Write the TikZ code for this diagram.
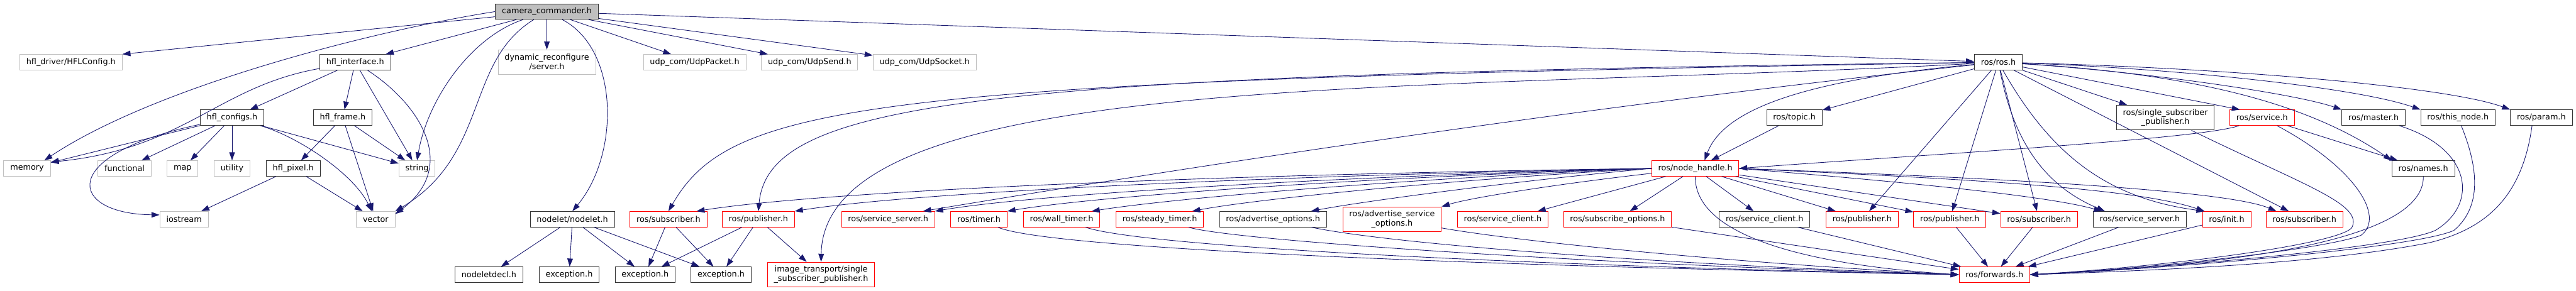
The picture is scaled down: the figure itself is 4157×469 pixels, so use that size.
\documentclass[tikz,border=0pt]{standalone}
\usepackage{fontspec}
\setmainfont{DejaVu Sans}
\usepackage{tikz}
\usetikzlibrary{arrows.meta}
\definecolor{edgeblue}{RGB}{25,25,112}
\definecolor{sysgray}{RGB}{191,191,191}
\tikzstyle{hdr}=[draw=black!80, fill=white, rectangle, line width=1pt, inner xsep=10.5pt, inner ysep=0pt, minimum height=25pt, align=center, font=\fontsize{13}{15}\selectfont]
\tikzstyle{sysh}=[hdr, draw=sysgray]
\tikzstyle{trunch}=[hdr, draw=red]
\tikzstyle{mainh}=[hdr, fill=sysgray, draw=black!80]
\tikzstyle{dep}=[draw=edgeblue, line width=0.9pt, -{Triangle[length=13pt,width=9pt]}]

\begin{document}
\begin{tikzpicture}[x=1pt,y=-1pt]
\useasboundingbox (0,0) rectangle (4157,469);
\node[mainh] (cc) at (882.5,18.7) {camera\_commander.h};
\node[sysh] (hfldrv) at (114.5,100.5) {hfl\_driver/HFLConfig.h};
\node[hdr] (hflif) at (573.2,100.5) {hfl\_interface.h};
\node[sysh, minimum height=40pt] (dynrec) at (882.5,100.5) {dynamic\_reconfigure\\/server.h};
\node[sysh] (udppkt) at (1121,100.5) {udp\_com/UdpPacket.h};
\node[sysh] (udpsend) at (1306.5,100.5) {udp\_com/UdpSend.h};
\node[sysh] (udpsock) at (1492,100.5) {udp\_com/UdpSocket.h};
\node[hdr] (rosros) at (3224.8,100.5) {ros/ros.h};
\node[hdr] (hflcfg) at (374.5,190) {hfl\_configs.h};
\node[hdr] (hflfrm) at (553,190) {hfl\_frame.h};
\node[hdr] (topic) at (2895.6,190) {ros/topic.h};
\node[hdr, minimum height=40pt] (singlesub) at (3494.4,190) {ros/single\_subscriber\\\_publisher.h};
\node[trunch] (service) at (3650.3,190) {ros/service.h};
\node[hdr] (master) at (3830.3,190) {ros/master.h};
\node[hdr] (thisnode) at (3966.5,190) {ros/this\_node.h};
\node[hdr] (param) at (4101,190) {ros/param.h};
\node[sysh] (mem) at (43.7,272) {memory};
\node[sysh] (func) at (201,272) {functional};
\node[sysh] (map) at (294.7,272) {map};
\node[sysh] (util) at (374.5,272) {utility};
\node[hdr] (hflpix) at (473.2,272) {hfl\_pixel.h};
\node[sysh] (str) at (673,272) {string};
\node[trunch] (nodehandle) at (2735.7,272) {ros/node\_handle.h};
\node[hdr] (names) at (3910.5,272) {ros/names.h};
\node[sysh] (ios) at (297,354) {iostream};
\node[sysh] (vec) at (606.3,354) {vector};
\node[hdr] (nodelet) at (923.7,354) {nodelet/nodelet.h};
\node[trunch] (rsub1) at (1078.7,354) {ros/subscriber.h};
\node[trunch] (rpub1) at (1223.8,354) {ros/publisher.h};
\node[trunch] (rsrv1) at (1433.2,354) {ros/service\_server.h};
\node[trunch] (rtimer) at (1579.7,354) {ros/timer.h};
\node[trunch] (rwall) at (1713.2,354) {ros/wall\_timer.h};
\node[trunch] (rsteady) at (1871.7,354) {ros/steady\_timer.h};
\node[hdr] (radvopt) at (2054.3,354) {ros/advertise\_options.h};
\node[trunch, minimum height=40pt] (radvsrv) at (2246.4,354) {ros/advertise\_service\\\_options.h};
\node[trunch] (rsrvcl1) at (2425,354) {ros/service\_client.h};
\node[trunch] (rsubopt) at (2610.2,354) {ros/subscribe\_options.h};
\node[hdr] (rsrvcl2) at (2847.5,354) {ros/service\_client.h};
\node[trunch] (rpub2) at (3005,354) {ros/publisher.h};
\node[trunch] (rpub3) at (3146.4,354) {ros/publisher.h};
\node[trunch] (rsub2) at (3290.5,354) {ros/subscriber.h};
\node[hdr] (rsrv2) at (3453,354) {ros/service\_server.h};
\node[trunch] (rinit) at (3593.2,354) {ros/init.h};
\node[trunch] (rsub3) at (3718.7,354) {ros/subscriber.h};
\node[hdr] (nodeletdecl) at (789,443.5) {nodeletdecl.h};
\node[hdr] (exc1) at (918.5,443.5) {exception.h};
\node[hdr] (exc2) at (1041,443.5) {exception.h};
\node[hdr] (exc3) at (1163.6,443.5) {exception.h};
\node[trunch, minimum height=40pt] (imgtr) at (1325,443.3) {image\_transport/single\\\_subscriber\_publisher.h};
\node[trunch] (forwards) at (3218.5,443.5) {ros/forwards.h};
\draw[dep] (cc) -- (hfldrv.north east);
\draw[dep] (cc.west) .. controls (600,50) and (250,140) .. (mem.25);
\draw[dep] (cc) -- (hflif);
\draw[dep] (cc) .. controls (760,60) and (690,160) .. (str.north);
\draw[dep] (cc) .. controls (750,100) and (790,250) .. (vec.north east);
\draw[dep] (cc) -- (dynrec);
\draw[dep] (cc) .. controls (1000,80) and (1000,250) .. (nodelet.north);
\draw[dep] (cc) -- (udppkt);
\draw[dep] (cc) -- (udpsend);
\draw[dep] (cc) -- (udpsock);
\draw[dep] (cc) -- (rosros);
\draw[dep] (hflif.190) .. controls (350,140) and (300,240) .. (mem.15);
\draw[dep] (hflif) -- (hflcfg);
\draw[dep] (hflif) -- (hflfrm);
\draw[dep] (hflif) -- (str);
\draw[dep] (hflif) .. controls (680,170) and (740,270) .. (vec.15);
\draw[dep] (hflcfg) -- (mem);
\draw[dep] (hflcfg) -- (func);
\draw[dep] (hflcfg) -- (map);
\draw[dep] (hflcfg) -- (util);
\draw[dep] (hflcfg) .. controls (90,250) and (110,345) .. (ios.170);
\draw[dep] (hflcfg) -- (str);
\draw[dep] (hflcfg) .. controls (480,220) and (570,280) .. (vec);
\draw[dep] (hflfrm) -- (hflpix);
\draw[dep] (hflfrm) -- (vec);
\draw[dep] (hflfrm) -- (str);
\draw[dep] (hflpix) -- (ios);
\draw[dep] (hflpix) -- (vec);
\draw[dep] (nodelet) -- (nodeletdecl);
\draw[dep] (nodelet) -- (exc1);
\draw[dep] (nodelet) -- (exc2);
\draw[dep] (nodelet) -- (exc3);
\draw[dep] (rsub1) -- (exc2);
\draw[dep] (rsub1) -- (exc3);
\draw[dep] (rpub1) -- (exc2);
\draw[dep] (rpub1) -- (exc3);
\draw[dep] (rpub1) -- (imgtr);
\draw[dep] (rosros) .. controls (1400,130) and (1180,165) .. (rsub1.north);
\draw[dep] (rosros) .. controls (1600,120) and (1240,160) .. (rpub1.north);
\draw[dep] (rosros) .. controls (2300,150) and (1330,110) .. (imgtr.north);
\draw[dep] (rosros) .. controls (2900,130) and (2780,180) .. (nodehandle.41);
\draw[dep] (rosros) -- (topic);
\draw[dep] (rosros) .. controls (2620,165) and (2056,247) .. (rsrv1.13);
\draw[dep] (rosros) -- (rpub2);
\draw[dep] (rosros) -- (rpub3);
\draw[dep] (rosros) -- (rsub2);
\draw[dep] (rosros) .. controls (3250,230) and (3300,300) .. (rsrv2.167);
\draw[dep] (rosros) .. controls (3310,250) and (3400,320) .. (rinit.160);
\draw[dep] (rosros) -- (rsub3);
\draw[dep] (rosros) -- (singlesub);
\draw[dep] (rosros) -- (service.160);
\draw[dep] (rosros) .. controls (3450,115) and (3700,150) .. (master.north west);
\draw[dep] (rosros) .. controls (3500,110) and (3800,140) .. (thisnode.north west);
\draw[dep] (rosros) .. controls (3600,110) and (3950,140) .. (param.north west);
\draw[dep] (rosros) .. controls (3550,120) and (3730,170) .. (names.north west);
\draw[dep] (topic) -- (nodehandle);
\draw[dep] (service) .. controls (3550,225) and (3100,250) .. (nodehandle.east);
\draw[dep] (service) -- (names);
\draw[dep] (service) .. controls (3800,270) and (3850,350) .. (3810,380) .. controls (3760,400) and (3500,432) .. (forwards.east);
\draw[dep] (singlesub) .. controls (3720,300) and (3815,330) .. (3795,368) .. controls (3770,395) and (3500,430) .. (forwards.east);
\draw[dep] (master) .. controls (3990,240) and (4000,330) .. (3930,372) .. controls (3870,400) and (3500,432) .. (forwards.east);
\draw[dep] (thisnode) .. controls (3995,260) and (4010,330) .. (3960,372) .. controls (3900,400) and (3500,434) .. (forwards.east);
\draw[dep] ([xshift=-15pt]param.south) .. controls (4070,320) and (4010,370) .. (3920,392) .. controls (3750,425) and (3500,436) .. (forwards.east);
\draw[dep] (names) .. controls (3912,390) and (3600,428) .. (forwards.east);
\draw[dep] (nodehandle.west) .. controls (2048,280) and (1354,305) .. (rsub1.16);
\draw[dep] (nodehandle.west) .. controls (2112,282) and (1490,308) .. (rpub1.north east);
\draw[dep] (nodehandle.west) .. controls (2201,283) and (1680,312) .. (rsrv1.north east);
\draw[dep] (nodehandle.west) .. controls (2250,284) and (1780,315) .. (rtimer.north east);
\draw[dep] (nodehandle.west) .. controls (2309,286) and (1908,318) .. (rwall.15);
\draw[dep] (nodehandle.west) .. controls (2369,288) and (2035,320) .. (rsteady.14);
\draw[dep] (nodehandle.west) .. controls (2446,292) and (2200,325) .. (radvopt.12);
\draw[dep] (nodehandle) .. controls (2530,295) and (2378,318) .. (radvsrv.north east);
\draw[dep] (nodehandle) -- (rsrvcl1.13);
\draw[dep] (nodehandle) -- (rsubopt);
\draw[dep] (nodehandle) -- (rsrvcl2);
\draw[dep] (nodehandle) -- (rpub2);
\draw[dep] (nodehandle) -- (rpub3);
\draw[dep] (nodehandle) -- (rsub2);
\draw[dep] (nodehandle.east) .. controls (3050,292) and (3300,315) .. (rsrv2.168);
\draw[dep] (nodehandle.east) .. controls (3200,290) and (3450,305) .. (rinit.160);
\draw[dep] (nodehandle.east) .. controls (3300,290) and (3600,310) .. (rsub3.164);
\draw[dep] (nodehandle) .. controls (2735,390) and (2950,430) .. (forwards.west);
\draw[dep] (rtimer) .. controls (1700,405) and (2500,432) .. (forwards.west);
\draw[dep] (rwall) .. controls (1850,400) and (2500,430) .. (forwards.west);
\draw[dep] (rsteady) .. controls (2000,390) and (2600,428) .. (forwards.west);
\draw[dep] (radvopt) .. controls (2250,395) and (2700,428) .. (forwards.west);
\draw[dep] (radvsrv) .. controls (2450,390) and (2800,425) .. (forwards.west);
\draw[dep] (rsubopt) -- (forwards);
\draw[dep] (rsrvcl2) -- (forwards);
\draw[dep] (rpub3) -- (forwards);
\draw[dep] (rsub2) -- (forwards);
\draw[dep] (rsrv2) -- (forwards);
\draw[dep] (rinit) -- (forwards);
\end{tikzpicture}
\end{document}
